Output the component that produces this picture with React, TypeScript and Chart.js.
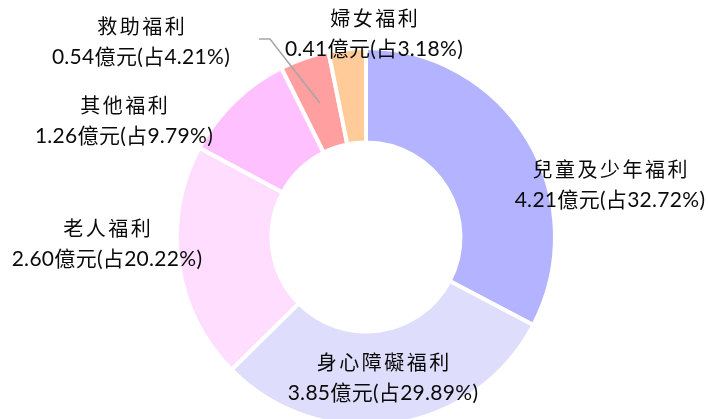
import React, { useEffect, useRef } from 'react';
import { Chart, registerables } from 'chart.js';

Chart.register(...registerables);

const categories = ['兒童及少年福利', '身心障礙福利', '老人福利', '其他福利', '救助福利', '婦女福利'];
const amounts = ['4.21', '3.85', '2.60', '1.26', '0.54', '0.41'];
const percents = [32.72, 29.89, 20.22, 9.79, 4.21, 3.18];
const percentLabels = ['32.72', '29.89', '20.22', '9.79', '4.21', '3.18'];
const colors = ['#B3B3FF', '#DEDEFC', '#FFDDFF', '#FFC0FF', '#FF9F9F', '#FFCC99'];

// label line-1 centre offsets relative to the doughnut centre (layout only)
const labelOffsets: [number, number][] = [
  [244, -68],
  [17, 125],
  [-259, -9],
  [-242, -132],
  [-225, -211],
  [8, -219],
];
const LINE_GAP = 31;

const labelPlugin = {
  id: 'outLabels',
  afterDatasetsDraw(chart: any) {
    const ctx: CanvasRenderingContext2D = chart.ctx;
    const meta = chart.getDatasetMeta(0);
    const cx = meta.data[0].x;
    const cy = meta.data[0].y;
    ctx.save();
    // leader line for 救助福利
    const p = meta.data[4].tooltipPosition();
    ctx.strokeStyle = '#A6A6A6';
    ctx.lineWidth = 1.5;
    ctx.beginPath();
    ctx.moveTo(p.x, p.y);
    ctx.lineTo(cx - 96, cy - 198);
    ctx.lineTo(cx - 107, cy - 198);
    ctx.stroke();

    ctx.fillStyle = '#0A0A0A';
    ctx.textAlign = 'center';
    ctx.textBaseline = 'middle';
    categories.forEach((name, i) => {
      const [dx, dy] = labelOffsets[i];
      const x = cx + dx;
      const y = cy + dy;
      (ctx as any).letterSpacing = '2.5px';
      ctx.font = '20px "Noto Sans CJK TC"';
      ctx.fillText(name, x + 1.25, y);
      (ctx as any).letterSpacing = '0.3px';
      ctx.font = '21px Lato, "Noto Sans CJK TC"';
      ctx.fillText(`${amounts[i]}億元(占${percentLabels[i]}%)`, x, y + LINE_GAP);
    });
    ctx.restore();
  },
};

export default function App() {
  const ref = useRef<HTMLCanvasElement | null>(null);
  useEffect(() => {
    if (!ref.current) return;
    const chart = new Chart(ref.current, {
      type: 'doughnut',
      data: {
        labels: categories,
        datasets: [
          {
            data: percents,
            backgroundColor: colors,
            borderColor: '#FFFFFF',
            borderWidth: 4,
          },
        ],
      },
      options: {
        responsive: false,
        animation: false,
        cutout: '50%',
        layout: { padding: { left: 24, right: 0, top: 46, bottom: 12 } },
        plugins: {
          legend: { display: false },
          tooltip: { enabled: false },
        },
      },
      plugins: [labelPlugin],
    });
    return () => chart.destroy();
  }, []);
  return (
    <div style={{ position: 'absolute', left: 0, top: 0, width: 708, height: 419, overflow: 'hidden', background: '#fff' }}>
      <canvas ref={ref} width={708} height={440} style={{ display: 'block' }} />
    </div>
  );
}
